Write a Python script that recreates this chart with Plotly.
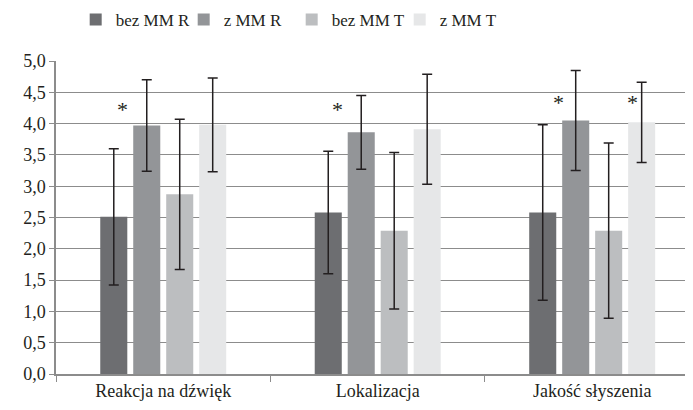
import plotly.graph_objects as go

categories = ["Reakcja na dźwięk", "Lokalizacja", "Jakość słyszenia"]
series_names = ["bez MM R", "z MM R", "bez MM T", "z MM T"]
values = {
    "bez MM R": [2.51, 2.58, 2.58],
    "z MM R": [3.97, 3.86, 4.05],
    "bez MM T": [2.87, 2.29, 2.29],
    "z MM T": [3.98, 3.91, 4.02],
}
errors = {
    "bez MM R": [1.09, 0.98, 1.40],
    "z MM R": [0.73, 0.59, 0.80],
    "bez MM T": [1.20, 1.25, 1.40],
    "z MM T": [0.75, 0.88, 0.64],
}
colors = ["#6d6e71", "#939598", "#bcbec0", "#e6e7e8"]
y_ticks = [0, 0.5, 1.0, 1.5, 2.0, 2.5, 3.0, 3.5, 4.0, 4.5, 5.0]
# significance markers: (category index, y value, pixel shift)
stars = [(0, 4.22, -41), (1, 4.22, -40), (2, 4.33, -34), (2, 4.33, 40)]

fig = go.Figure()
for name, col in zip(series_names, colors):
    fig.add_trace(go.Bar(
        name=name, x=categories, y=values[name], marker=dict(color=col, line=dict(width=0)),
        error_y=dict(type="data", array=errors[name], visible=True,
                     color="#231f20", thickness=1.5, width=5),
    ))

for ci, yv, shift in stars:
    fig.add_annotation(x=categories[ci], y=yv, xshift=shift, text="*", showarrow=False,
                       font=dict(size=22, color="#231f20", family="Liberation Serif"))

fig.update_layout(
    width=685, height=402,
    margin=dict(l=48, r=0, t=53, b=36, autoexpand=False),
    paper_bgcolor="white", plot_bgcolor="white",
    barmode="group", bargap=0.385, bargroupgap=0.18,
    separators=", ",
    font=dict(family="Liberation Serif", size=18, color="#231f20"),
    showlegend=True,
    legend=dict(orientation="h", x=0.37, xanchor="center", y=0.97, yanchor="middle",
                yref="container", itemsizing="constant", font=dict(size=17),
                itemwidth=30, tracegroupgap=0, entrywidthmode="pixels", entrywidth=63),
    xaxis=dict(range=[-0.5, 2.47], showline=True, linecolor="#8c8c8c", linewidth=1.5,
               ticks="outside", tickson="boundaries", ticklen=6, tickcolor="#8c8c8c",
               showgrid=False, tickfont=dict(size=18)),
    yaxis=dict(range=[0, 5.0], tickvals=y_ticks, tickformat=".1f", showline=True,
               linecolor="#8c8c8c", linewidth=1.5, ticks="outside", ticklen=5,
               tickcolor="#8c8c8c", showgrid=True, gridcolor="#8c8c8c", gridwidth=1,
               zeroline=False, tickfont=dict(size=18)),
)
fig.write_html("out.html")
